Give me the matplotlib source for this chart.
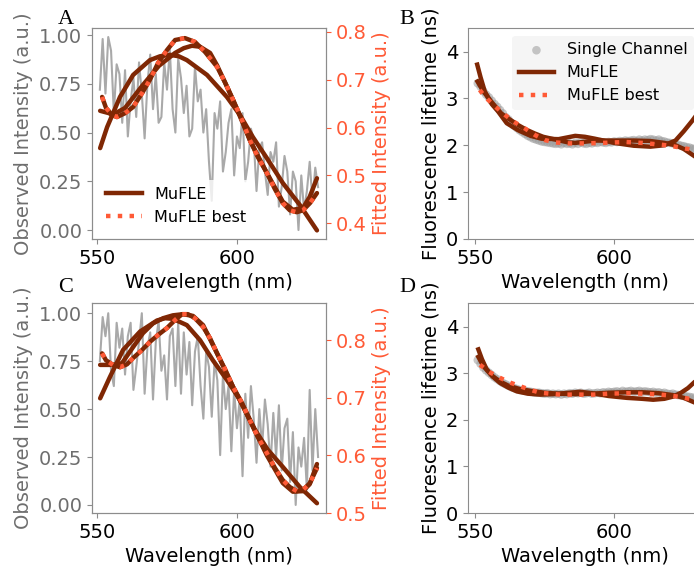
import numpy as np
import matplotlib
matplotlib.use('Agg')
import matplotlib.pyplot as plt
from matplotlib.lines import Line2D

# Màu sắc
BROWN = '#7f2704'
BEST = '#ff5a36'
GREY = '#a0a0a0'

# Bước sóng của dữ liệu đo (nm)
wl = np.arange(551, 630)

# ---- Panel A: cường độ quan sát + cường độ khớp ----
obs_a = [0.72, 0.98, 0.70, 0.99, 0.92, 0.60, 0.85, 0.80, 0.55, 0.82,
         0.48, 0.66, 0.78, 0.58, 0.86, 0.70, 0.47, 0.75, 0.90, 0.62,
         0.80, 0.55, 0.58, 0.86, 0.72, 0.93, 0.62, 0.50, 0.88, 0.78,
         0.60, 0.74, 0.48, 0.52, 0.84, 0.66, 0.72, 0.50, 0.62, 0.35,
         0.15, 0.60, 0.52, 0.66, 0.30, 0.40, 0.55, 0.62, 0.28, 0.48,
         0.42, 0.60, 0.25, 0.35, 0.52, 0.46, 0.20, 0.42, 0.45, 0.30,
         0.18, 0.40, 0.35, 0.45, 0.12, 0.22, 0.38, 0.30, 0.08, 0.30,
         0.25, 0.00, 0.28, 0.10, 0.20, 0.35, 0.15, 0.32, 0.22]

fit1_a_x = [551.1, 553.6, 558.2, 562.9, 568.9, 572.5, 576.1, 579.2, 582.1,
            589.3, 596.4, 601.1, 605.7, 610.7, 616.4, 622.5, 628.6]
fit1_a_y = [0.557, 0.601, 0.664, 0.710, 0.741, 0.749, 0.752, 0.749, 0.741,
            0.710, 0.664, 0.626, 0.580, 0.536, 0.484, 0.438, 0.385]

best_a_x = [551.8, 553.2, 555.4, 557.1, 560.0, 562.9, 566.1, 568.9, 571.8,
            575.0, 577.9, 581.4, 585.0, 588.6, 592.9, 595.7, 598.6, 601.8,
            604.6, 607.5, 610.7, 613.6, 616.4, 618.9, 621.4, 623.6, 626.1,
            628.6]
best_a_y = [0.664, 0.641, 0.626, 0.622, 0.630, 0.643, 0.672, 0.700, 0.735,
            0.762, 0.783, 0.787, 0.779, 0.758, 0.727, 0.695, 0.658, 0.616,
            0.574, 0.538, 0.505, 0.471, 0.442, 0.427, 0.423, 0.427, 0.442,
            0.463]

fit3_a_x = [551.1, 554.3, 555.4, 560.0, 566.1, 572.1, 577.9, 581.0, 583.9,
            586.8, 590.4, 592.9, 598.6, 604.6, 610.7, 616.4, 620.0, 623.6,
            626.0, 628.6]
fit3_a_y = [0.635, 0.630, 0.626, 0.641, 0.687, 0.729, 0.756, 0.766, 0.771,
            0.769, 0.756, 0.730, 0.658, 0.574, 0.505, 0.445, 0.428, 0.432,
            0.455, 0.494]

# ---- Panel C ----
obs_c = [0.75, 0.98, 0.88, 1.00, 0.70, 0.62, 0.95, 0.82, 0.92, 0.68,
         0.88, 0.95, 0.60, 0.72, 0.85, 1.00, 0.58, 0.82, 0.90, 0.55,
         0.85, 0.96, 0.70, 0.78, 0.55, 0.88, 0.92, 0.62, 0.95, 0.58,
         0.90, 0.68, 0.85, 0.52, 0.80, 0.88, 0.62, 0.45, 0.80, 0.72,
         0.46, 0.75, 0.65, 0.26, 0.68, 0.50, 0.62, 0.28, 0.60, 0.40,
         0.55, 0.15, 0.58, 0.35, 0.62, 0.45, 0.22, 0.50, 0.30, 0.55,
         0.42, 0.20, 0.48, 0.25, 0.52, 0.18, 0.40, 0.45, 0.12, 0.38,
         0.00, 0.30, 0.20, 0.35, 0.08, 0.60, 0.18, 0.50, 0.25]

fit1_c_x = [551.1, 554.6, 559.3, 565.4, 571.4, 574.3, 577.1, 582.1, 586.8,
            591.4, 596.4, 601.1, 606.4, 611.0, 616.4, 622.5, 628.6]
fit1_c_y = [0.699, 0.736, 0.783, 0.815, 0.834, 0.838, 0.837, 0.826, 0.800,
            0.765, 0.731, 0.696, 0.645, 0.610, 0.580, 0.545, 0.517]

best_c_x = [551.8, 553.2, 555.7, 558.2, 560.7, 562.9, 566.1, 568.9, 571.8,
            575.0, 577.9, 580.4, 582.5, 585.0, 587.9, 590.4, 592.9, 595.7,
            598.6, 601.8, 604.6, 607.5, 610.7, 613.6, 616.4, 618.9, 621.4,
            623.6, 626.1, 628.6]
best_c_y = [0.777, 0.765, 0.757, 0.753, 0.758, 0.769, 0.783, 0.797, 0.809,
            0.821, 0.835, 0.845, 0.845, 0.838, 0.823, 0.803, 0.777, 0.750,
            0.719, 0.691, 0.661, 0.632, 0.604, 0.578, 0.557, 0.545, 0.538,
            0.540, 0.552, 0.578]

fit3_c_x = [551.1, 555.7, 558.9, 562.9, 566.4, 570.0, 573.6, 577.1, 580.7,
            584.3, 587.9, 592.9, 598.6, 604.6, 610.7, 616.4, 620.0, 623.6,
            626.0, 628.6]
fit3_c_y = [0.757, 0.757, 0.760, 0.788, 0.812, 0.829, 0.838, 0.843, 0.845,
            0.842, 0.826, 0.777, 0.719, 0.661, 0.600, 0.552, 0.537, 0.538,
            0.550, 0.585]

# ---- Panel B: thời gian sống huỳnh quang ----
tau_b = [3.32, 3.25, 3.15, 3.08, 3.02, 2.95, 2.88, 2.82, 2.75, 2.68,
         2.60, 2.55, 2.48, 2.42, 2.37, 2.32, 2.28, 2.24, 2.20, 2.17,
         2.14, 2.12, 2.10, 2.08, 2.07, 2.06, 2.05, 2.04, 2.03, 2.04,
         2.02, 2.05, 2.03, 2.04, 2.02, 2.05, 2.03, 2.06, 2.04, 2.03,
         2.05, 2.04, 2.06, 2.05, 2.07, 2.06, 2.05, 2.07, 2.06, 2.08,
         2.07, 2.09, 2.08, 2.10, 2.09, 2.10, 2.11, 2.09, 2.12, 2.10,
         2.12, 2.11, 2.13, 2.12, 2.10, 2.12, 2.09, 2.08, 2.06, 2.05,
         2.04, 2.02, 2.01, 1.99, 1.98, 1.96, 1.95, 1.93, 1.92]

mufle1_b_x = [550.8, 552.0, 553.5, 556.0, 558.3, 561.4, 565.5, 570.0, 573.9,
              580.0, 586.0, 589.5, 593.0, 600.0, 607.0, 613.0, 618.0, 622.0,
              625.0, 628.0, 629.0]
mufle1_b_y = [3.72, 3.45, 3.15, 2.88, 2.72, 2.47, 2.32, 2.20, 2.14,
              2.13, 2.20, 2.18, 2.14, 2.05, 1.99, 1.97, 2.00, 2.10,
              2.30, 2.52, 2.60]

mufle2_b_x = [550.9, 553.0, 556.0, 559.4, 562.5, 565.5, 568.5, 571.5, 574.5,
              577.5, 583.5, 586.0, 593.0, 600.0, 607.0, 613.0, 618.0, 622.0,
              625.0, 628.0, 629.0]
mufle2_b_y = [3.36, 3.15, 2.92, 2.68, 2.55, 2.43, 2.33, 2.25, 2.18,
              2.14, 2.06, 2.05, 2.10, 2.10, 2.10, 2.09, 2.05, 2.00,
              1.92, 1.80, 1.76]

best_b_x = [551.7, 553.0, 554.7, 557.0, 560.7, 564.0, 567.9, 571.5, 575.1,
            579.0, 583.5, 590.0, 596.0, 604.0, 610.0, 617.2, 621.0, 625.5,
            629.0]
best_b_y = [3.18, 3.08, 2.97, 2.84, 2.65, 2.50, 2.36, 2.22, 2.11,
            2.06, 2.04, 2.04, 2.05, 2.07, 2.05, 2.01, 1.98, 1.93, 1.90]

# ---- Panel D ----
tau_d = [3.28, 3.20, 3.12, 3.06, 3.01, 2.96, 2.91, 2.87, 2.83, 2.79,
         2.76, 2.73, 2.70, 2.68, 2.66, 2.64, 2.63, 2.62, 2.61, 2.60,
         2.59, 2.58, 2.58, 2.57, 2.56, 2.57, 2.55, 2.56, 2.55, 2.56,
         2.54, 2.56, 2.55, 2.57, 2.56, 2.58, 2.57, 2.58, 2.56, 2.57,
         2.58, 2.56, 2.57, 2.58, 2.57, 2.59, 2.58, 2.60, 2.59, 2.60,
         2.61, 2.59, 2.62, 2.60, 2.61, 2.62, 2.60, 2.61, 2.62, 2.60,
         2.61, 2.60, 2.59, 2.60, 2.58, 2.59, 2.57, 2.58, 2.56, 2.55,
         2.56, 2.54, 2.53, 2.52, 2.51, 2.50, 2.49, 2.48, 2.46]

mufle1_d_x = [551.2, 552.5, 554.2, 556.5, 559.0, 562.0, 565.0, 569.0, 573.4,
              578.0, 582.0, 587.8, 592.0, 598.0, 604.6, 610.0, 614.0, 618.0,
              621.3, 624.0, 626.5, 628.5]
mufle1_d_y = [3.51, 3.30, 3.08, 2.92, 2.79, 2.69, 2.61, 2.56, 2.54,
              2.55, 2.57, 2.60, 2.57, 2.51, 2.47, 2.45, 2.43, 2.45,
              2.50, 2.58, 2.68, 2.79]

mufle2_d_x = [551.2, 553.0, 556.0, 559.0, 562.0, 566.0, 570.0, 575.0, 580.0,
              586.0, 592.0, 598.0, 604.0, 610.0, 616.0, 621.0, 625.0, 628.5]
mufle2_d_y = [3.35, 3.15, 2.95, 2.82, 2.73, 2.66, 2.62, 2.58, 2.56,
              2.55, 2.56, 2.58, 2.59, 2.59, 2.57, 2.53, 2.47, 2.38]

best_d_x = [551.8, 555.0, 559.0, 562.5, 566.2, 570.0, 573.4, 580.6, 586.0,
            592.6, 598.0, 604.6, 610.0, 616.5, 620.0, 623.7, 628.5]
best_d_y = [3.18, 3.03, 2.90, 2.80, 2.72, 2.64, 2.58, 2.54, 2.54,
            2.54, 2.56, 2.57, 2.56, 2.54, 2.52, 2.49, 2.43]

plt.rcParams['font.family'] = 'DejaVu Sans'
fig = plt.figure(figsize=(6.94, 5.67), dpi=100)

W, H = 0.337, 0.372
LW = 3.2


def style_axes(ax):
    for s in ax.spines.values():
        s.set_color('#8c8c8c')
    ax.tick_params(labelsize=14, length=3.5, color='#8c8c8c')


def intensity_panel(rect, obs, f1x, f1y, f3x, f3y, bx, by, y2lim, y2ticks, ylim, legend):
    ax = fig.add_axes(rect)
    ax.plot(wl, obs, color=GREY, lw=1.5, alpha=0.9)
    ax.set_xlim(548.2, 631.8)
    ax.set_ylim(*ylim)
    ax.set_yticks([0.0, 0.25, 0.5, 0.75, 1.0])
    ax.set_xticks([550, 600])
    style_axes(ax)
    ax.tick_params(axis='y', labelcolor='#6e6e6e')
    ax.set_ylabel('Observed Intensity (a.u.)', fontsize=14, color='#6e6e6e')
    ax.set_xlabel('Wavelength (nm)', fontsize=14)

    ax2 = ax.twinx()
    ax2.plot(f1x, f1y, color=BROWN, lw=LW, solid_capstyle='round')
    ax2.plot(f3x, f3y, color=BROWN, lw=LW, solid_capstyle='round')
    ax2.plot(bx, by, color=BROWN, lw=LW, solid_capstyle='round')
    ax2.plot(bx, by, color=BEST, lw=LW, ls=':')
    ax2.set_ylim(*y2lim)
    ax2.set_yticks(y2ticks)
    style_axes(ax2)
    ax2.tick_params(axis='y', labelcolor=BEST, color=BEST)
    ax2.set_ylabel('Fitted Intensity (a.u.)', fontsize=14, color=BEST)

    if legend:
        handles = [Line2D([], [], color=BROWN, lw=LW),
                   Line2D([], [], color=BEST, lw=LW, ls=':')]
        ax2.legend(handles, ['MuFLE', 'MuFLE best'], loc='lower left',
                   fontsize=11.5, frameon=True, edgecolor='none',
                   facecolor='white', framealpha=0.8, handlelength=2.2)
    return ax


def lifetime_panel(rect, tau, m1x, m1y, m2x, m2y, bx, by, legend):
    ax = fig.add_axes(rect)
    ax.scatter(wl, tau, s=38, color='#9a9a9a', alpha=0.55, edgecolors='none',
               label='Single Channel', zorder=1)
    ax.plot(m1x, m1y, color=BROWN, lw=LW, zorder=2, label='MuFLE')
    ax.plot(m2x, m2y, color=BROWN, lw=LW, zorder=2)
    ax.plot(bx, by, color=BEST, lw=LW, ls=':', zorder=3, label='MuFLE best')
    ax.set_xlim(547.5, 631.5)
    ax.set_ylim(0, 4.5)
    ax.set_xticks([550, 600])
    ax.set_yticks([0, 1, 2, 3, 4])
    style_axes(ax)
    ax.set_ylabel('Fluorescence lifetime (ns)', fontsize=14)
    ax.set_xlabel('Wavelength (nm)', fontsize=14)
    if legend:
        ax.legend(loc='upper right', fontsize=11.5, frameon=True,
                  edgecolor='none', facecolor='#f4f4f4', framealpha=0.9,
                  handlelength=2.2)
    return ax


intensity_panel([0.1326, 0.5785, W, H], obs_a, fit1_a_x, fit1_a_y,
                fit3_a_x, fit3_a_y, best_a_x, best_a_y,
                (0.367, 0.808), [0.4, 0.5, 0.6, 0.7, 0.8], (-0.046, 1.036), True)
intensity_panel([0.1326, 0.0952, W, 0.370], obs_c, fit1_c_x, fit1_c_y,
                fit3_c_x, fit3_c_y, best_c_x, best_c_y,
                (0.5, 0.864), [0.5, 0.6, 0.7, 0.8], (-0.042, 1.052), False)
lifetime_panel([0.6744, 0.5785, W, H], tau_b, mufle1_b_x, mufle1_b_y,
               mufle2_b_x, mufle2_b_y, best_b_x, best_b_y, True)
lifetime_panel([0.6744, 0.0952, W, 0.370], tau_d, mufle1_d_x, mufle1_d_y,
               mufle2_d_x, mufle2_d_y, best_d_x, best_d_y, False)

# Nhãn các panel
for lbl, x, y in [('A', 66, 19), ('B', 407, 19), ('C', 66, 287), ('D', 407, 287)]:
    fig.text(x / 694, 1 - y / 567, lbl, fontsize=16, family='Liberation Serif',
             ha='center', va='center')

plt.savefig('out.png', dpi=100)
